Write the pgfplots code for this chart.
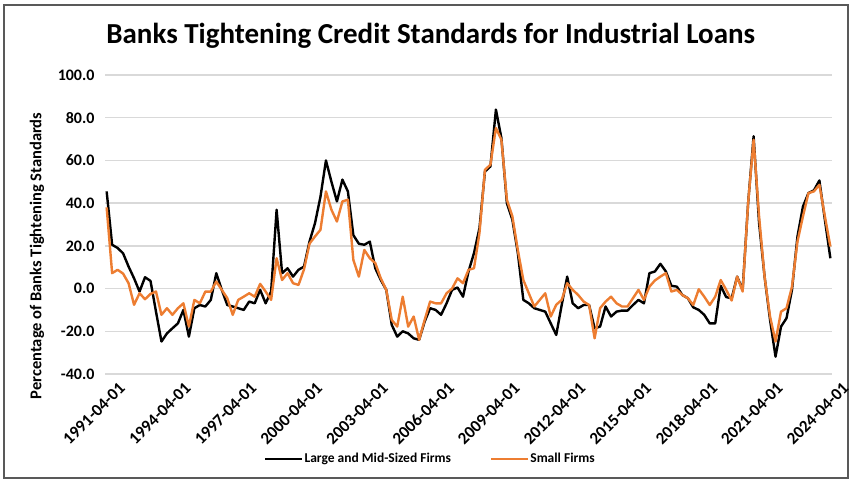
\documentclass[border=0pt]{standalone}
\usepackage{pgfplots}
\usepackage{pgfplotstable}
\pgfplotsset{compat=1.18}
\usepackage{fontspec}
\setmainfont{Carlito}

\definecolor{excelorange}{HTML}{ED7D31}
\definecolor{gridgray}{HTML}{D9D9D9}

% quarterly survey values, i = 0 is 1991-04-01
\pgfplotstableread{
i large small
0 45.5 38.0
1 20.5 7.2
2 19.0 8.8
3 16.5 7.0
4 10.3 2.5
5 4.8 -7.6
6 -1.4 -2.2
7 5.3 -5.0
8 3.6 -2.5
9 -10.8 -1.4
10 -24.8 -12.3
11 -21.0 -9.2
12 -18.6 -12.3
13 -16.3 -9.2
14 -10.0 -6.9
15 -22.5 -17.8
16 -9.2 -5.3
17 -7.7 -6.9
18 -8.4 -1.4
19 -5.3 -1.4
20 7.2 3.3
21 -0.6 -0.6
22 -7.7 -4.5
23 -8.4 -12.3
24 -9.2 -5.3
25 -10.0 -3.8
26 -6.1 -2.2
27 -6.9 -3.8
28 -0.6 2.2
29 -6.9 -1.4
30 -1.4 -5.3
31 36.9 14.2
32 7.2 4.0
33 9.5 7.2
34 5.6 2.5
35 8.8 1.7
36 10.3 9.0
37 22.0 21.0
38 30.6 24.4
39 43.0 27.5
40 60.0 45.5
41 50.0 36.9
42 40.8 31.4
43 51.0 40.8
44 45.5 41.6
45 25.0 13.4
46 21.0 5.6
47 20.5 18.1
48 22.0 14.2
49 9.5 11.9
50 4.0 4.8
51 -0.6 -0.6
52 -17.0 -14.7
53 -22.5 -17.8
54 -20.0 -3.8
55 -21.0 -17.8
56 -23.3 -13.1
57 -24.0 -24.0
58 -15.5 -14.7
59 -9.2 -6.1
60 -10.0 -6.9
61 -12.3 -6.9
62 -6.9 -2.2
63 -0.6 0.0
64 0.5 4.8
65 -3.8 2.5
66 8.0 8.8
67 16.6 9.5
68 28.3 26.0
69 54.8 55.6
70 57.2 58.0
71 83.8 75.2
72 70.5 69.7
73 40.0 41.6
74 32.2 33.8
75 16.6 18.0
76 -5.3 4.0
77 -6.9 -2.2
78 -9.2 -8.4
79 -10.0 -5.3
80 -10.8 -2.2
81 -16.3 -13.1
82 -21.7 -7.6
83 -7.7 -5.3
84 5.6 2.5
85 -6.9 -0.6
86 -9.2 -3.0
87 -7.7 -6.1
88 -7.7 -7.7
89 -18.6 -23.3
90 -17.8 -9.2
91 -8.4 -6.1
92 -13.1 -3.8
93 -10.8 -6.9
94 -10.3 -8.4
95 -10.3 -8.4
96 -7.7 -4.5
97 -5.3 -0.6
98 -6.9 -5.3
99 7.2 0.9
100 8.0 3.8
101 11.6 5.6
102 8.0 7.2
103 1.3 -1.4
104 0.9 -0.6
105 -3.0 -3.0
106 -4.5 -4.5
107 -8.8 -7.7
108 -10.0 -0.3
109 -12.3 -3.8
110 -16.3 -7.7
111 -16.3 -3.8
112 1.3 4.0
113 -4.0 -0.6
114 -4.5 -5.6
115 5.6 5.6
116 -0.6 -1.4
117 40.0 40.0
118 71.3 69.7
119 30.6 33.8
120 5.6 5.6
121 -14.7 -13.1
122 -31.9 -24.8
123 -17.8 -10.8
124 -13.9 -9.2
125 -0.6 0.9
126 24.4 22.0
127 38.4 33.8
128 44.7 44.7
129 46.0 45.5
130 50.6 48.6
131 32.2 33.8
132 14.2 19.7
}\loans

\begin{document}
\begin{tikzpicture}
\useasboundingbox (0,0) rectangle (851pt,481pt);
\draw[line width=1.5pt, black!65] (4pt,3pt) rectangle (848pt,476pt);
\begin{axis}[
    at={(105pt,107pt)}, anchor=south west,
    scale only axis,
    width=727pt, height=299pt,
    xmin=-0.3, xmax=132.3,
    ymin=-40, ymax=100,
    ytick={-40,-20,...,100},
    xtick={0,12,...,132},
    xticklabels={1991-04-01,1994-04-01,1997-04-01,2000-04-01,2003-04-01,2006-04-01,2009-04-01,2012-04-01,2015-04-01,2018-04-01,2021-04-01,2024-04-01},
    axis line style={draw=none},
    major tick length=0pt,
    ymajorgrids,
    grid style={gridgray, line width=1.3pt},
    yticklabel style={font=\fontsize{16}{18}\selectfont\bfseries, xshift=-7pt,
        /pgf/number format/.cd, fixed, fixed zerofill, precision=1, assume math mode=true},
    xticklabel style={font=\fontsize{17}{19}\selectfont\bfseries, rotate=45, anchor=north east, yshift=-13pt, xshift=3pt, inner sep=0pt},
    title={Banks Tightening Credit Standards for Industrial Loans},
    title style={font=\fontsize{29}{33}\selectfont\bfseries, at={(axis description cs:0.448,1.0836)}, anchor=base},
    ylabel={Percentage of Banks Tightening Standards},
    ylabel style={font=\fontsize{16.5}{18}\selectfont\bfseries, at={(axis description cs:-0.0935,0.395)}, anchor=center},
    legend columns=2,
    legend cell align=left,
    legend style={draw=none, fill=none, font=\fontsize{13.5}{15}\selectfont\bfseries,
        at={(axis description cs:0.447,-0.284)}, anchor=center,
        nodes={inner sep=1pt},
        /tikz/every even column/.append style={column sep=38pt}},
    legend image code/.code={\draw[#1] (0pt,0pt) -- (37pt,0pt);},
]
\addplot[black, line width=2.4pt, line join=round] table[x=i, y=large] {\loans};
\addlegendentry{Large and Mid-Sized Firms}
\addplot[excelorange, line width=2.4pt, line join=round] table[x=i, y=small] {\loans};
\addlegendentry{Small Firms}
\end{axis}
\end{tikzpicture}
\end{document}
